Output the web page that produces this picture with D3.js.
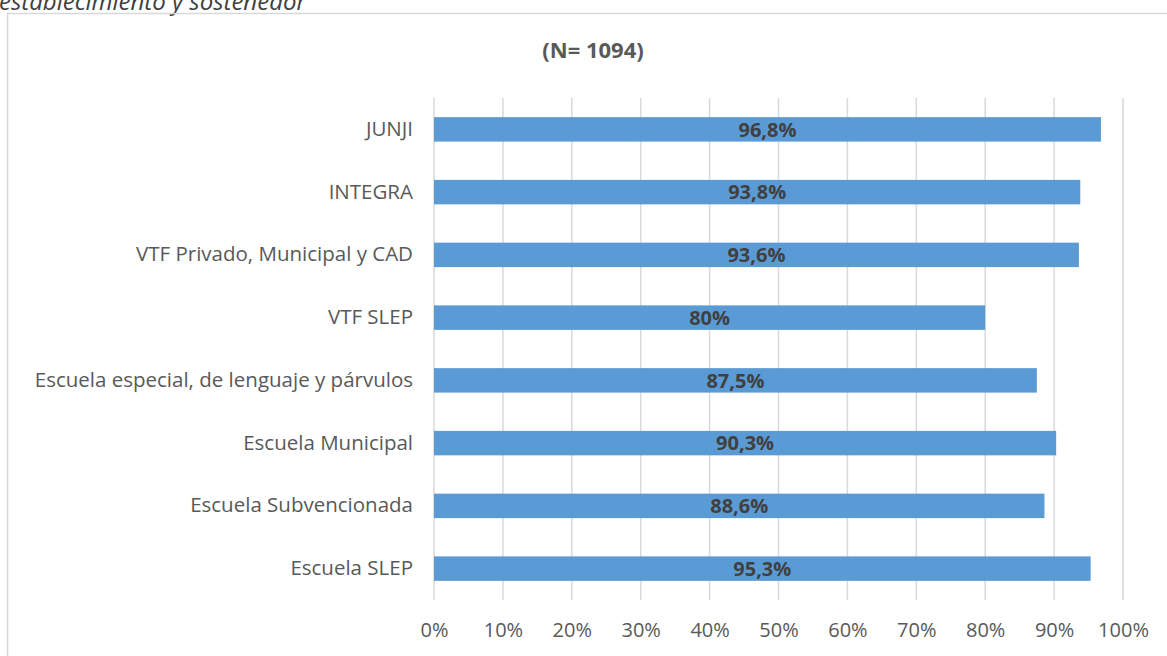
<!DOCTYPE html>
<html>
<head>
<meta charset="utf-8">
<script src="https://cdn.jsdelivr.net/npm/d3@7"></script>
<style>
  body { margin: 0; background: #fff; }
  svg text { font-family: "Open Sans", "Liberation Sans", sans-serif; }
</style>
</head>
<body>
<div id="chart"></div>
<script>
// data
let categories = ["JUNJI", "INTEGRA", "VTF Privado, Municipal y CAD", "VTF SLEP",
  "Escuela especial, de lenguaje y párvulos", "Escuela Municipal",
  "Escuela Subvencionada", "Escuela SLEP"]
let values = [96.8, 93.8, 93.6, 80, 87.5, 90.3, 88.6, 95.3]
let valueLabels = ["96,8%", "93,8%", "93,6%", "80%", "87,5%", "90,3%", "88,6%", "95,3%"]
let ticks = [0, 10, 20, 30, 40, 50, 60, 70, 80, 90, 100]
let title = "(N= 1094)"
let caption = "establecimiento y sostenedor"

let width = 1167
let height = 656

let svg = d3.select("#chart")
  .append("svg")
  .attr("width", width)
  .attr("height", height)

// caption cut off at the top of the page
svg.append("text")
  .attr("x", -1)
  .attr("y", 10)
  .attr("font-size", 24)
  .attr("font-style", "italic")
  .attr("fill", "#404040")
  .text(caption)

// chart frame
svg.append("rect")
  .attr("x", 7.5)
  .attr("y", 13.5)
  .attr("width", 1170)
  .attr("height", 660)
  .attr("fill", "none")
  .attr("stroke", "#d9d9d9")
  .attr("stroke-width", 1.5)

svg.append("text")
  .attr("x", 593)
  .attr("y", 58)
  .attr("text-anchor", "middle")
  .attr("font-size", 22)
  .attr("font-weight", "bold")
  .attr("fill", "#595959")
  .text(title)

let xScale = d3.scaleLinear()
  .domain([0, 100])
  .range([434, 1123])

let yScale = d3.scaleBand()
  .domain(categories)
  .range([98, 600])
  .paddingInner(0.61)
  .paddingOuter(0.305)

// gridlines
svg.append("g")
  .selectAll("line")
  .data(ticks)
  .enter()
  .append("line")
  .attr("x1", d => xScale(d))
  .attr("x2", d => xScale(d))
  .attr("y1", 98)
  .attr("y2", 600)
  .attr("stroke", "#d9d9d9")
  .attr("stroke-width", 1.5)

// bars
svg.append("g")
  .selectAll("rect")
  .data(values)
  .enter()
  .append("rect")
  .attr("x", xScale(0))
  .attr("y", (d, i) => yScale(categories[i]))
  .attr("width", d => xScale(d) - xScale(0))
  .attr("height", yScale.bandwidth())
  .attr("fill", "#5b9bd5")

// value labels
svg.append("g")
  .selectAll("text")
  .data(values)
  .enter()
  .append("text")
  .attr("x", d => (xScale(0) + xScale(d)) / 2)
  .attr("y", (d, i) => yScale(categories[i]) + yScale.bandwidth() / 2)
  .attr("dy", "0.36em")
  .attr("text-anchor", "middle")
  .attr("font-size", 20)
  .attr("font-weight", "bold")
  .attr("fill", "#404040")
  .text((d, i) => valueLabels[i])

// y axis
let yAxis = d3.axisLeft(yScale).tickSize(0).tickPadding(21)
let gy = svg.append("g")
  .attr("transform", `translate(${xScale(0)},0)`)
  .call(yAxis)
gy.select(".domain").remove()
gy.selectAll("text")
  .attr("font-size", 20.5)
  .attr("fill", "#595959")
  .attr("font-family", "Open Sans, sans-serif")

// x axis
let xAxis = d3.axisBottom(xScale)
  .tickValues(ticks)
  .tickFormat(d => d + "%")
  .tickSize(0)
  .tickPadding(23)
let gx = svg.append("g")
  .attr("transform", `translate(0,600)`)
  .call(xAxis)
gx.select(".domain").remove()
gx.selectAll("text")
  .attr("font-size", 20)
  .attr("fill", "#595959")
  .attr("font-family", "Open Sans, sans-serif")
</script>
</body>
</html>
